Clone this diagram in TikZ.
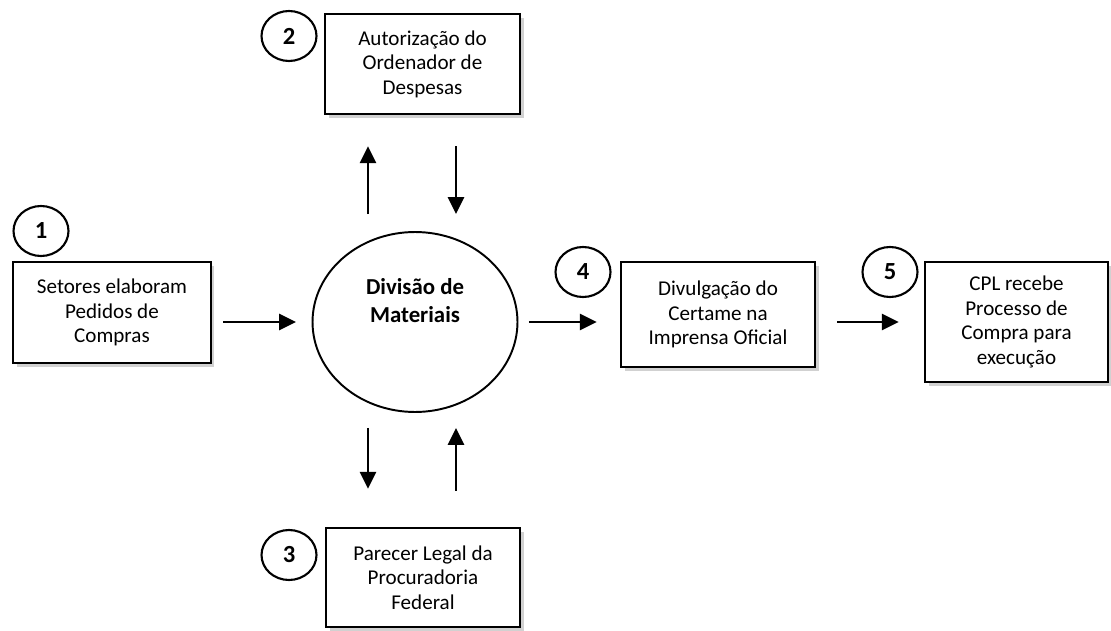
\documentclass[tikz,border=0pt]{standalone}
\usepackage{fontspec}
\setmainfont{Carlito}
\usetikzlibrary{arrows.meta,shapes.geometric,shadows,calc}

\begin{document}
\begin{tikzpicture}[x=0.02cm, y=-0.02cm, >={Triangle[length=0.34cm, width=0.32cm]},
  etapa/.style={draw, line width=1.3pt, fill=white, align=center,
    font=\fontsize{12}{14}\selectfont, inner sep=2pt,
    drop shadow={shadow xshift=2pt, shadow yshift=-2pt, fill=gray!60, opacity=0.6}},
  num/.style={draw, ellipse, line width=1.2pt, minimum width=1.1cm,
    minimum height=1.0cm, inner sep=0pt, font=\bfseries\fontsize{14}{16}\selectfont},
  fluxo/.style={->, line width=1.6pt}]
\useasboundingbox (0,0) rectangle (1111,631);
% etapas
\node[etapa, minimum width=3.96cm, minimum height=2.02cm] (setores) at (112,312.5)
  {Setores elaboram\\Pedidos de\\Compras};
\node[etapa, minimum width=3.9cm, minimum height=2.0cm] (autoriz) at (422.5,64)
  {Autorização do\\Ordenador de\\Despesas};
\node[etapa, minimum width=3.88cm, minimum height=1.98cm] (parecer) at (423,577.5)
  {Parecer Legal da\\Procuradoria\\Federal};
\node[etapa, minimum width=3.88cm, minimum height=2.1cm] (divulg) at (718,314.5)
  {Divulgação do\\Certame na\\Imprensa Oficial};
\node[etapa, minimum width=3.66cm, minimum height=2.4cm] (cpl) at (1016.5,322)
  {CPL recebe\\Processo de\\Compra para\\execução};
% divisao de materiais
\node[draw, ellipse, line width=1.1pt, minimum width=4.1cm, minimum height=3.6cm]
  (divisao) at (415,322) {};
\node[font=\bfseries\fontsize{13}{16}\selectfont, align=center] (divtxt) at (415,301)
  {Divisão de\\Materiais};
% numeros
\node[num] (n1) at (41,231) {1};
\node[num] (n2) at (289,36) {2};
\node[num] (n3) at (289,555) {3};
\node[num] (n4) at (583,272) {4};
\node[num] (n5) at (890,272) {5};
% fluxo horizontal
\draw[fluxo, shorten <=0.22cm, shorten >=0.31cm] (setores.east |- divisao.west) -- (divisao.west);
\draw[fluxo, shorten <=0.21cm, shorten >=0.46cm] (divisao.east) -- (divisao.east -| divulg.west);
\draw[fluxo, shorten <=0.42cm, shorten >=0.5cm] (divulg.east |- cpl.west) -- (cpl.west);
% fluxo vertical
\coordinate (esq) at ($(divisao.center)+(-47,0)$);
\coordinate (dir) at ($(divisao.center)+(41,0)$);
\draw[fluxo, shorten <=0.34cm, shorten >=0.62cm] (esq |- divisao.north) -- (esq |- autoriz.south);
\draw[fluxo, shorten <=0.62cm, shorten >=0.34cm] (dir |- autoriz.south) -- (dir |- divisao.north);
\draw[fluxo, shorten <=0.3cm, shorten >=0.76cm] (esq |- divisao.south) -- (esq |- parecer.north);
\draw[fluxo, shorten <=0.72cm, shorten >=0.3cm] (dir |- parecer.north) -- (dir |- divisao.south);
\end{tikzpicture}
\end{document}
